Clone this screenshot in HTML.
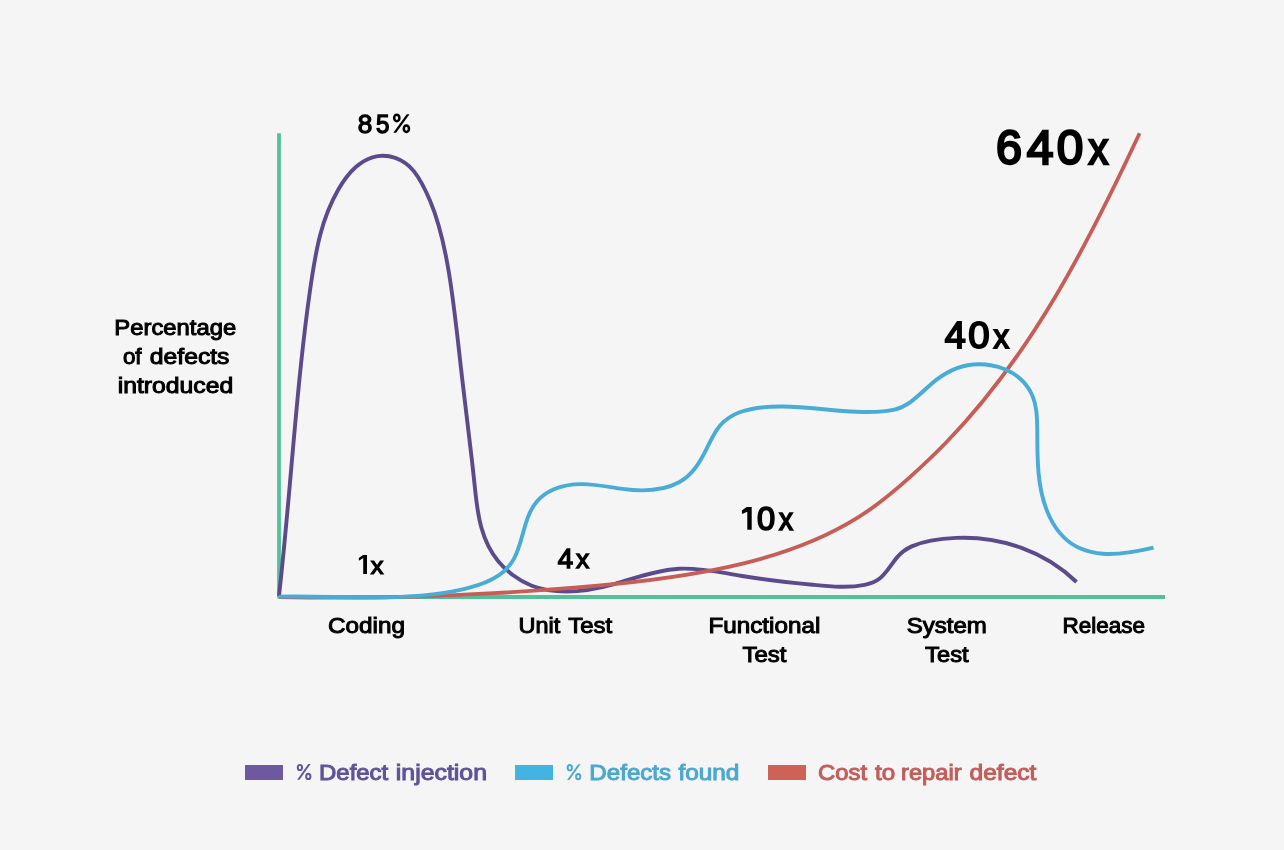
<!DOCTYPE html>
<html><head><meta charset="utf-8"><title>Defect cost chart</title>
<style>
html,body{margin:0;padding:0;background:#f5f5f5;}
body{width:1284px;height:850px;overflow:hidden;font-family:"Liberation Sans",sans-serif;}
svg{display:block;}
#wrap{will-change:transform;width:1284px;height:850px;}
text{font-family:"Liberation Sans",sans-serif;white-space:pre;}
</style></head><body>
<div id="wrap"><svg width="1284" height="850" viewBox="0 0 1284 850">
<rect x="0" y="0" width="1284" height="850" fill="#f5f5f5"/>
<g fill="none" stroke-linejoin="round">
<path d="M279,133.2 V597 H1165" stroke="#52c19a" stroke-width="3.8"/>
<path d="M278.98,596.00 C287.78,518.82 292.82,441.28 301.01,364.04 C303.60,339.59 306.51,315.16 309.96,290.81 C312.61,272.17 315.33,253.45 320.10,235.21 C324.18,219.57 329.87,204.31 337.92,190.26 C342.82,181.69 348.63,173.40 356.07,166.83 C360.84,162.62 366.34,159.15 372.45,157.30 C387.83,152.67 404.03,158.78 413.80,171.12 C420.70,179.84 425.66,190.32 429.97,200.52 C439.80,223.80 444.99,248.68 449.05,273.54 C454.27,305.48 457.51,337.69 461.17,369.84 C464.63,400.25 468.52,430.61 472.00,461.02 C473.13,470.99 474.21,480.96 475.25,490.94 C477.84,515.89 481.52,540.95 498.03,560.92 C502.37,566.17 507.32,570.93 512.76,575.04 C518.59,579.45 525.00,583.07 531.82,585.71 C558.57,596.07 588.28,591.44 615.08,583.82 C635.97,577.87 656.71,570.02 678.60,568.75 C699.48,567.54 720.14,572.39 740.61,575.74 C764.47,579.65 788.56,582.35 812.61,584.72 C829.56,586.39 847.79,588.36 864.62,584.84 C870.10,583.69 875.60,581.80 880.01,578.24 C887.02,572.57 891.27,564.17 897.04,557.38 C901.10,552.61 905.98,548.96 911.70,546.39 C925.30,540.29 941.44,538.51 956.19,537.87 C1000.25,535.96 1044.64,551.14 1076.51,581.99" stroke="#5c4b8c" stroke-width="3.9"/>
<path d="M279.00,597.00 C350.61,598.77 422.28,597.22 493.79,593.19 C535.31,590.85 576.85,587.91 618.23,583.66 C660.02,579.36 701.83,573.55 742.69,563.62 C782.60,553.91 821.82,539.88 856.86,518.17 C875.94,506.35 893.29,492.12 909.95,477.14 C922.35,465.99 934.48,454.51 946.11,442.54 C1031.72,354.43 1088.03,243.49 1139.60,133.30" stroke="#c75d57" stroke-width="3.8"/>
<path d="M279.00,596.60 C330.18,595.38 381.60,600.65 432.61,594.41 C444.71,592.92 456.80,590.88 468.60,587.85 C479.11,585.14 489.63,581.49 498.65,575.35 C504.93,571.07 510.24,565.54 513.90,558.86 C523.84,540.74 523.29,517.28 537.10,501.18 C541.51,496.04 547.23,492.18 553.40,489.47 C575.66,479.68 599.43,485.62 622.38,488.83 C641.28,491.48 661.87,491.62 679.10,482.26 C692.17,475.16 699.61,462.83 706.08,449.92 C710.30,441.51 714.09,432.55 720.30,425.35 C725.46,419.35 732.28,415.10 739.63,412.29 C753.22,407.11 768.22,406.35 782.61,406.52 C807.29,406.79 831.72,410.82 856.36,411.81 C868.88,412.31 882.15,412.58 894.41,409.65 C909.51,406.04 919.47,394.18 930.73,384.43 C942.71,374.07 956.84,365.96 972.88,364.53 C993.55,362.69 1017.13,370.40 1028.66,388.58 C1032.65,394.87 1034.95,401.99 1036.06,409.33 C1037.46,418.61 1037.26,428.07 1037.32,437.44 C1037.36,443.93 1037.42,450.43 1037.63,456.93 C1037.81,462.36 1038.10,467.79 1038.59,473.20 C1041.22,502.01 1051.60,536.09 1080.57,548.57 C1087.65,551.62 1095.31,553.20 1102.97,553.78 C1120.02,555.07 1137.00,551.52 1153.50,547.60" stroke="#48acd6" stroke-width="3.9"/>
</g>
<rect x="245" y="765" width="38" height="15" fill="#6e59a0"/>
<rect x="515" y="765" width="38" height="15" fill="#42b4e2"/>
<rect x="768" y="765" width="38" height="15" fill="#ce6256"/>
<text x="357.79" y="132.9" font-size="26" fill="#000" font-weight="normal" stroke="#000" stroke-width="1.3" textLength="14.58" lengthAdjust="spacingAndGlyphs">8</text>
<text x="376.1" y="132.9" font-size="26" fill="#000" font-weight="normal" stroke="#000" stroke-width="1.37" textLength="13.44" lengthAdjust="spacingAndGlyphs">5</text>
<text x="995.92" y="164.1" font-size="47.5" fill="#000" font-weight="normal" stroke="#000" stroke-width="2.4" textLength="26.0" lengthAdjust="spacingAndGlyphs">6</text>
<text x="1026.7" y="164.1" font-size="47.5" fill="#000" font-weight="normal" stroke="#000" stroke-width="2.38" textLength="26.73" lengthAdjust="spacingAndGlyphs">4</text>
<text x="1056.7" y="164.1" font-size="47.5" fill="#000" font-weight="normal" stroke="#000" stroke-width="2.38" textLength="26.53" lengthAdjust="spacingAndGlyphs">0</text>
<text x="1088.39" y="164.1" font-size="44.6" fill="#000" font-weight="normal" stroke="#000" stroke-width="2.42" textLength="19.8" lengthAdjust="spacingAndGlyphs">x</text>
<text x="944.8" y="348.2" font-size="36" fill="#000" font-weight="normal" stroke="#000" stroke-width="1.8" textLength="21.03" lengthAdjust="spacingAndGlyphs">4</text>
<text x="968.23" y="348.2" font-size="36" fill="#000" font-weight="normal" stroke="#000" stroke-width="1.8" textLength="21.4" lengthAdjust="spacingAndGlyphs">0</text>
<text x="993.62" y="348.2" font-size="33.8" fill="#000" font-weight="normal" stroke="#000" stroke-width="1.79" textLength="15.57" lengthAdjust="spacingAndGlyphs">x</text>
<text x="757.1" y="529.9" font-size="32.5" fill="#000" font-weight="normal" stroke="#000" stroke-width="1.62" textLength="18.18" lengthAdjust="spacingAndGlyphs">0</text>
<text x="778.92" y="529.9" font-size="30.5" fill="#000" font-weight="normal" stroke="#000" stroke-width="1.62" textLength="13.99" lengthAdjust="spacingAndGlyphs">x</text>
<text x="557.7" y="568.4" font-size="28" fill="#000" font-weight="normal" stroke="#000" stroke-width="1.41" textLength="15.38" lengthAdjust="spacingAndGlyphs">4</text>
<text x="576.1" y="568.4" font-size="25.4" fill="#000" font-weight="normal" stroke="#000" stroke-width="1.27" textLength="13.29" lengthAdjust="spacingAndGlyphs">x</text>
<text x="370.8" y="573.8" font-size="23.5" fill="#000" font-weight="normal" stroke="#000" stroke-width="1.18" textLength="12.73" lengthAdjust="spacingAndGlyphs">x</text>
<text x="114.39" y="335.0" font-size="21.5" fill="#000" font-weight="normal" stroke="#000" stroke-width="0.99" textLength="121.77" lengthAdjust="spacingAndGlyphs">Percentage</text>
<text x="122.9" y="363.6" font-size="21.5" fill="#000" font-weight="normal" stroke="#000" stroke-width="0.99" textLength="18.69" lengthAdjust="spacingAndGlyphs">of</text>
<text x="149.8" y="363.6" font-size="21.5" fill="#000" font-weight="normal" stroke="#000" stroke-width="0.99" textLength="79.68" lengthAdjust="spacingAndGlyphs">defects</text>
<text x="117.75" y="392.6" font-size="21.5" fill="#000" font-weight="normal" stroke="#000" stroke-width="0.99" textLength="115.42" lengthAdjust="spacingAndGlyphs">introduced</text>
<text x="327.97" y="632.8" font-size="21.5" fill="#000" font-weight="normal" stroke="#000" stroke-width="0.99" textLength="77.02" lengthAdjust="spacingAndGlyphs">Coding</text>
<text x="518.51" y="633.0" font-size="21.5" fill="#000" font-weight="normal" stroke="#000" stroke-width="0.99" textLength="41.66" lengthAdjust="spacingAndGlyphs">Unit</text>
<text x="568.3" y="633.0" font-size="21.5" fill="#000" font-weight="normal" stroke="#000" stroke-width="0.99" textLength="43.87" lengthAdjust="spacingAndGlyphs">Test</text>
<text x="708.47" y="632.8" font-size="21.5" fill="#000" font-weight="normal" stroke="#000" stroke-width="0.99" textLength="111.88" lengthAdjust="spacingAndGlyphs">Functional</text>
<text x="742.5" y="661.8" font-size="21.5" fill="#000" font-weight="normal" stroke="#000" stroke-width="0.99" textLength="43.97" lengthAdjust="spacingAndGlyphs">Test</text>
<text x="906.68" y="633.0" font-size="21.5" fill="#000" font-weight="normal" stroke="#000" stroke-width="0.99" textLength="80.19" lengthAdjust="spacingAndGlyphs">System</text>
<text x="925.1" y="661.8" font-size="21.5" fill="#000" font-weight="normal" stroke="#000" stroke-width="0.99" textLength="43.48" lengthAdjust="spacingAndGlyphs">Test</text>
<text x="1062.45" y="633.0" font-size="21.5" fill="#000" font-weight="normal" stroke="#000" stroke-width="0.99" textLength="82.53" lengthAdjust="spacingAndGlyphs">Release</text>
<text x="319.09" y="779.8" font-size="21.5" fill="#5e5497" font-weight="normal" stroke="#5e5497" stroke-width="0.99" textLength="69.16" lengthAdjust="spacingAndGlyphs">Defect</text>
<text x="395.84" y="779.8" font-size="21.5" fill="#5e5497" font-weight="normal" stroke="#5e5497" stroke-width="0.99" textLength="91.19" lengthAdjust="spacingAndGlyphs">injection</text>
<text x="589.38" y="780.0" font-size="21.5" fill="#4ba8d0" font-weight="normal" stroke="#4ba8d0" stroke-width="0.99" textLength="81.7" lengthAdjust="spacingAndGlyphs">Defects</text>
<text x="678.4" y="780.0" font-size="21.5" fill="#4ba8d0" font-weight="normal" stroke="#4ba8d0" stroke-width="0.99" textLength="60.92" lengthAdjust="spacingAndGlyphs">found</text>
<text x="818.09" y="780.0" font-size="21.5" fill="#c25e5b" font-weight="normal" stroke="#c25e5b" stroke-width="0.99" textLength="48.94" lengthAdjust="spacingAndGlyphs">Cost</text>
<text x="875.0" y="780.0" font-size="21.5" fill="#c25e5b" font-weight="normal" stroke="#c25e5b" stroke-width="0.99" textLength="20.23" lengthAdjust="spacingAndGlyphs">to</text>
<text x="901.0" y="780.0" font-size="21.5" fill="#c25e5b" font-weight="normal" stroke="#c25e5b" stroke-width="0.99" textLength="60.57" lengthAdjust="spacingAndGlyphs">repair</text>
<text x="969.6" y="780.0" font-size="21.5" fill="#c25e5b" font-weight="normal" stroke="#c25e5b" stroke-width="0.99" textLength="66.72" lengthAdjust="spacingAndGlyphs">defect</text>
<ellipse cx="396.8" cy="117.9" rx="2.6" ry="3.25" fill="none" stroke="#000" stroke-width="2.5"/><ellipse cx="406.4" cy="128.7" rx="2.6" ry="3.25" fill="none" stroke="#000" stroke-width="2.5"/><polygon points="406.7,114.2 409.5,114.2 396.1,132.8 393.3,132.8" fill="#000"/>
<ellipse cx="299.9" cy="767.5" rx="2.15" ry="2.65" fill="none" stroke="#5e5497" stroke-width="1.95"/><ellipse cx="308.3" cy="776.4" rx="2.15" ry="2.65" fill="none" stroke="#5e5497" stroke-width="1.95"/><polygon points="308.3,764.1 310.6,764.1 299.5,779.8 297.2,779.8" fill="#5e5497"/>
<polygon points="751.7,506.9 751.7,529.8 747.3,529.8 747.3,511.7 742.0,514.1 741.9,510.4 746.8,506.9" fill="#000"/>
<polygon points="367.0,554.9 367.0,573.9 363.2,573.9 363.2,557.9 358.9,560.8 358.8,557.9 363.1,554.9" fill="#000"/>
<ellipse cx="569.8" cy="767.7" rx="2.15" ry="2.65" fill="none" stroke="#4ba8d0" stroke-width="1.95"/><ellipse cx="578.2" cy="776.6" rx="2.15" ry="2.65" fill="none" stroke="#4ba8d0" stroke-width="1.95"/><polygon points="578.2,764.3 580.5,764.3 569.4,780.0 567.1,780.0" fill="#4ba8d0"/>
</svg></div>
</body></html>
